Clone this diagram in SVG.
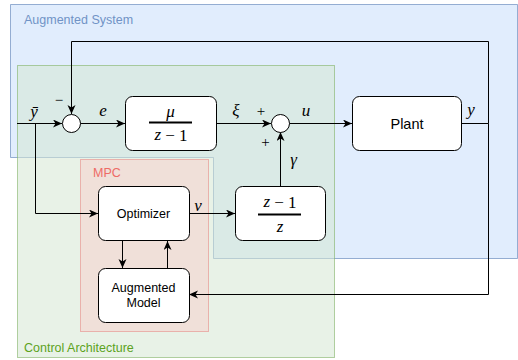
<svg xmlns="http://www.w3.org/2000/svg" width="518" height="360" viewBox="0 0 518 360">
<defs>
<marker id="arr" markerUnits="userSpaceOnUse" markerWidth="10" markerHeight="9" refX="9" refY="4" orient="auto">
<path d="M0,0 L9,4 L0,8 L2.5,4 Z" fill="#000"/>
</marker>
<style>
.lbl{font-family:"Liberation Sans",Arial,sans-serif;font-size:12.5px}
.node rect{fill:#fff;stroke:#000;stroke-width:1}
.node circle{fill:#fff;stroke:#000;stroke-width:1}
.nt{font-family:"Liberation Sans",Arial,sans-serif;font-size:12.5px;fill:#000;text-anchor:middle;dominant-baseline:central}
.m{font-family:"Liberation Serif","Times New Roman",serif;font-style:italic;font-size:17px;fill:#000;text-anchor:middle;dominant-baseline:central}
.up{font-style:normal}
.sg{font-family:"Liberation Serif","Times New Roman",serif;font-size:15px;fill:#000;text-anchor:middle;dominant-baseline:central}
.c path{fill:none;stroke:#000;stroke-width:1;marker-end:url(#arr)}
.c path.n{marker-end:none}
</style>
</defs>

<g id="augmented-system">
<polygon points="10.5,4.5 517.5,4.5 517.5,258.5 213.5,258.5 213.5,157.5 10.5,157.5" fill="#dae8fc" fill-opacity="0.8" stroke="#6c8ebf" stroke-opacity="0.7"/>
<text class="lbl" x="24" y="23.5" fill="#7093c6">Augmented System</text>
</g>
<g id="control-architecture">
<rect x="17.5" y="65.5" width="317" height="292" fill="#d5e8d4" fill-opacity="0.55" stroke="#82b366" stroke-opacity="0.6"/>
<text class="lbl" x="24" y="352" fill="#5ca21d">Control Architecture</text>
</g>
<g id="mpc">
<rect x="80.5" y="159.5" width="128" height="172" fill="#f8cecc" fill-opacity="0.5" stroke="#e8a39e" stroke-opacity="0.8"/>
<text class="lbl" x="93" y="177" fill="#ee6b66">MPC</text>
</g>

<g id="connectors" class="c">
<path d="M17,123.5 H62"/>
<path d="M35.5,123.5 V213.5 H98"/>
<path d="M80,123.5 H125"/>
<path d="M217,123.5 H271"/>
<path d="M289,123.5 H352"/>
<path class="n" d="M462,123.5 H488.5"/>
<path d="M488.5,123.5 V41.5 H71.5 V114"/>
<path d="M488.5,123.5 V294.5 H189"/>
<path d="M189,213.5 H235"/>
<path d="M280.5,186 V132"/>
<path d="M122.5,241 V268"/>
<path d="M167.5,268 V241"/>
</g>

<g id="sum1" class="node"><circle cx="71.5" cy="123.5" r="9"/></g>
<g id="integrator" class="node">
<rect x="125.5" y="96.5" width="91" height="54" rx="7"/>
<text class="m" x="170.5" y="111">μ</text>
<line x1="149" y1="122.5" x2="192" y2="122.5" stroke="#000" stroke-width="2"/>
<text class="m" x="171" y="134.5">z <tspan class="up">− 1</tspan></text>
</g>
<g id="sum2" class="node"><circle cx="280.5" cy="123.5" r="9"/></g>
<g id="plant" class="node">
<rect x="352.5" y="96.5" width="109" height="54" rx="7"/>
<text class="nt" x="407" y="123.5" style="font-size:14.5px">Plant</text>
</g>
<g id="optimizer" class="node">
<rect x="98.5" y="186.5" width="91" height="54" rx="7"/>
<text class="nt" x="143.5" y="213.5">Optimizer</text>
</g>
<g id="augmented-model" class="node">
<rect x="98.5" y="268.5" width="91" height="54" rx="7"/>
<text class="nt" x="143.5" y="288">Augmented</text>
<text class="nt" x="143.5" y="303">Model</text>
</g>
<g id="differentiator" class="node">
<rect x="235.5" y="186.5" width="90" height="54" rx="7"/>
<text class="m" x="280" y="201.5">z <tspan class="up">− 1</tspan></text>
<line x1="258" y1="214.5" x2="301" y2="214.5" stroke="#000" stroke-width="2"/>
<text class="m" x="280" y="226.5">z</text>
</g>

<g id="labels">
<text class="m" x="34" y="111">ȳ</text>
<text class="sg" x="59" y="100">−</text>
<text class="m" x="103" y="110">e</text>
<text class="m" x="236" y="110">ξ</text>
<text class="sg" x="261" y="111">+</text>
<text class="sg" x="265.5" y="141.5">+</text>
<text class="m" x="306" y="110">u</text>
<text class="m" x="293.5" y="159">γ</text>
<text class="m" x="198" y="205">v</text>
<text class="m" x="471" y="109">y</text>
</g>
</svg>
